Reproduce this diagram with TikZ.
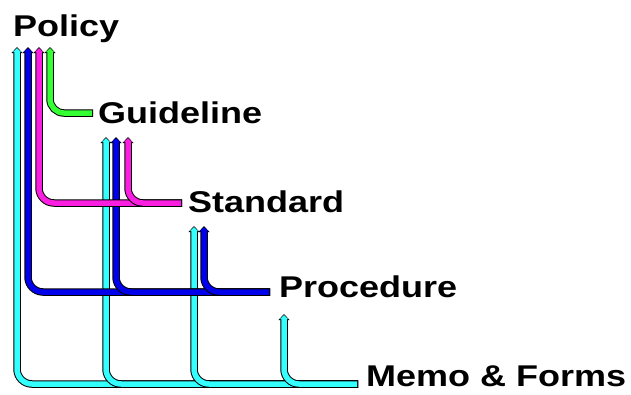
\documentclass[tikz,border=0pt]{standalone}
\usepackage{fontspec}
\setmainfont{Liberation Sans}
\usepackage{tikz}
\usetikzlibrary{arrows.meta,positioning}
\definecolor{tcyan}{RGB}{51,255,255}
\definecolor{tblue}{RGB}{0,0,235}
\definecolor{tmag}{RGB}{250,30,225}
\definecolor{tgreen}{RGB}{51,255,51}
\newcommand{\wide}[1]{\scalebox{1.2}[1]{#1}}

\begin{document}
\begin{tikzpicture}[
        x=1pt,y=-1pt,
        lbl/.style={anchor=base west,inner sep=0pt,font=\fontsize{30}{36}\selectfont\bfseries},
        tube/.style={draw=#1,line width=5.5pt,rounded corners=15pt,
          shorten <=1pt,shorten >=1.2pt,
          -{Triangle[length=4pt,width=8.5pt,line width=0pt]},
          preaction={draw=black,line width=7.5pt,shorten <=0pt,shorten >=0pt,
            -{Triangle[length=6pt,width=11pt,line width=0pt]}}}
      ]
      \useasboundingbox (0,0) rectangle (631,394);

      \node[lbl] (policy) at (13,36) {\wide{Policy}};
      \node[lbl] (guide) at (98,123) {\wide{Guideline}};
      \node[lbl] (std) at (188,212) {\wide{Standard}};
      \node[lbl] (proc) at (279,297) {\wide{Procedure}};
      \node[lbl] (memo) at (366,386) {\wide{Memo \& Forms}};

      % line ends next to the labels
      \coordinate (memoEnd) at (358,384);
      \coordinate (procEnd) at (270,292);
      \coordinate (stdEnd) at (182,203);
      \coordinate (guideEnd) at (93,113);

      % arrow tips under the labels
      \coordinate (p1) at (17,47);
      \coordinate (p2) at (28,47);
      \coordinate (p3) at (39,47);
      \coordinate (p4) at (50,47);
      \coordinate (g1) at (106,137);
      \coordinate (g2) at (116,137);
      \coordinate (g3) at (128,137);
      \coordinate (s1) at (194,226);
      \coordinate (s2) at (204,226);
      \coordinate (r1) at (284,314);

      \draw[tube=tcyan] (memoEnd) -| (p1);
      \draw[tube=tcyan] (memoEnd) -| (g1);
      \draw[tube=tcyan] (memoEnd) -| (s1);
      \draw[tube=tcyan] (memoEnd) -| (r1);

      \draw[tube=tblue] (procEnd) -| (p2);
      \draw[tube=tblue] (procEnd) -| (g2);
      \draw[tube=tblue] (procEnd) -| (s2);

      \draw[tube=tmag] (stdEnd) -| (p3);
      \draw[tube=tmag] (stdEnd) -| (g3);

      \draw[tube=tgreen,rounded corners=14pt] (guideEnd) -| (p4);
    \end{tikzpicture}
\end{document}
